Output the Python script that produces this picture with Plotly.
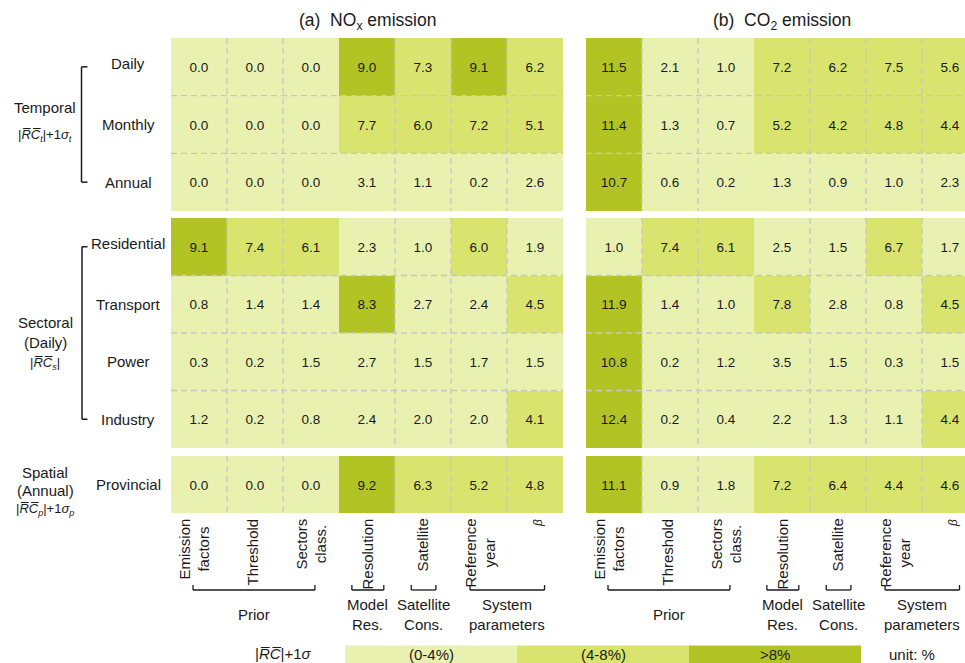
import plotly.graph_objects as go

W, H = 965, 663
FONT = "Liberation Sans, Arial, sans-serif"

# ---------------- data ----------------
params = ["Emission<br>factors", "Threshold", "Sectors<br>class.", "Resolution",
          "Satellite", "Reference<br>year", "<i>β</i>"]
groups = ["Prior", "Model<br>Res.", "Satellite<br>Cons.", "System<br>parameters"]
temporal_rows = ["Daily", "Monthly", "Annual"]
sectoral_rows = ["Residential", "Transport", "Power", "Industry"]
spatial_rows = ["Provincial"]

nox_temporal = [[0.0, 0.0, 0.0, 9.0, 7.3, 9.1, 6.2],
                [0.0, 0.0, 0.0, 7.7, 6.0, 7.2, 5.1],
                [0.0, 0.0, 0.0, 3.1, 1.1, 0.2, 2.6]]
nox_sectoral = [[9.1, 7.4, 6.1, 2.3, 1.0, 6.0, 1.9],
                [0.8, 1.4, 1.4, 8.3, 2.7, 2.4, 4.5],
                [0.3, 0.2, 1.5, 2.7, 1.5, 1.7, 1.5],
                [1.2, 0.2, 0.8, 2.4, 2.0, 2.0, 4.1]]
nox_spatial = [[0.0, 0.0, 0.0, 9.2, 6.3, 5.2, 4.8]]

co2_temporal = [[11.5, 2.1, 1.0, 7.2, 6.2, 7.5, 5.6],
                [11.4, 1.3, 0.7, 5.2, 4.2, 4.8, 4.4],
                [10.7, 0.6, 0.2, 1.3, 0.9, 1.0, 2.3]]
co2_sectoral = [[1.0, 7.4, 6.1, 2.5, 1.5, 6.7, 1.7],
                [11.9, 1.4, 1.0, 7.8, 2.8, 0.8, 4.5],
                [10.8, 0.2, 1.2, 3.5, 1.5, 0.3, 1.5],
                [12.4, 0.2, 0.4, 2.2, 1.3, 1.1, 4.4]]
co2_spatial = [[11.1, 0.9, 1.8, 7.2, 6.4, 4.4, 4.6]]

titles = ["(a)\u00a0\u00a0NO<sub>x</sub> emission", "(b)\u00a0\u00a0CO<sub>2</sub> emission"]
legend_labels = ["(0-4%)", "(4-8%)", ">8%"]
thresholds = [4, 8]
colors = ["#e9f1b1", "#d8e46e", "#b2c424"]

# ---------------- layout helpers ----------------
def fx(px):
    return px / W

def fy(py):
    return 1 - py / H

ZMAX = 16.0
cs = [[0, colors[0]], [thresholds[0] / ZMAX, colors[0]],
      [thresholds[0] / ZMAX, colors[1]], [thresholds[1] / ZMAX, colors[1]],
      [thresholds[1] / ZMAX, colors[2]], [1, colors[2]]]

CELL = 56.0
panel_left = [171, 586]
block_px = [(38, 211), (218, 448), (456, 513)]
blocks = [(temporal_rows, [nox_temporal, co2_temporal]),
          (sectoral_rows, [nox_sectoral, co2_sectoral]),
          (spatial_rows, [nox_spatial, co2_spatial])]

fig = go.Figure()
layout = dict(width=W, height=H, autosize=False, margin=dict(l=0, r=0, t=0, b=0),
              paper_bgcolor="white", plot_bgcolor="white", showlegend=False,
              font=dict(family=FONT, color="#1a1a1a"))
shapes = []
annotations = []

GRID = dict(color="#c6c6c6", width=1.3, dash="6px,4px")

for b, (rows, data) in enumerate(blocks):
    n = len(rows)
    for p in range(2):
        k = b * 2 + p + 1
        xa = "x" if k == 1 else f"x{k}"
        ya = "y" if k == 1 else f"y{k}"
        x0 = panel_left[p]
        x1 = min(x0 + CELL * len(params), W)
        xr_end = -0.5 + (x1 - x0) / CELL
        layout["xaxis" if k == 1 else f"xaxis{k}"] = dict(
            domain=[fx(x0), fx(x1)], range=[-0.5, xr_end], visible=False,
            anchor=ya, fixedrange=True)
        layout["yaxis" if k == 1 else f"yaxis{k}"] = dict(
            domain=[fy(block_px[b][1]), fy(block_px[b][0])], range=[n - 0.5, -0.5],
            visible=False, anchor=xa, fixedrange=True)
        fig.add_trace(go.Heatmap(
            z=data[p], x=list(range(len(params))), y=list(range(n)),
            xaxis=xa, yaxis=ya, colorscale=cs, zmin=0, zmax=ZMAX, showscale=False,
            texttemplate="%{z:.1f}", textfont=dict(size=13.5, color="#1a1a1a", family=FONT),
            hoverinfo="skip"))
        # dashed cell borders
        for c in [0.5, 1.5, 3.5, 4.5, 5.5]:
            shapes.append(dict(type="line", xref=xa, yref=ya, x0=c, x1=c,
                               y0=-0.5, y1=n - 0.5, line=GRID, layer="above"))
        for r in range(n - 1):
            shapes.append(dict(type="line", xref=xa, yref=ya, x0=-0.5, x1=6.5,
                               y0=r + 0.5, y1=r + 0.5, line=GRID, layer="above"))
        if p == 0:
            for i, lab in enumerate(rows):
                annotations.append(dict(xref="paper", yref=ya, x=fx(128), y=i,
                                        text=lab, showarrow=False, xanchor="center",
                                        yanchor="middle", font=dict(size=15),
                                        yshift=3 if (i == 0 and n > 1) else 0))
            if n > 1:
                bx = fx(81.5) if b == 0 else fx(82)
                shapes.append(dict(type="line", xref="paper", yref=ya, x0=bx, x1=bx,
                                   y0=0, y1=n - 1, line=dict(color="#1a1a1a", width=1.5)))
                for yy in (0, n - 1):
                    shapes.append(dict(type="line", xref="paper", yref=ya, x0=bx, x1=fx(87.5),
                                       y0=yy, y1=yy, line=dict(color="#1a1a1a", width=1.5)))
        if b == 0:
            annotations.append(dict(xref=xa, yref="paper", x=3, y=fy(22), text=titles[p],
                                    showarrow=False, xanchor="center", yanchor="middle",
                                    font=dict(size=17.5)))
        if b == 2:
            xshift = [-5, -3, 0, 0, -1, 1, 3]
            for c, lab in enumerate(params):
                is_beta = "β" in lab
                annotations.append(dict(xref=xa, yref="paper", x=c, y=fy(517), text=lab,
                                        showarrow=False, textangle=-90, xanchor="center",
                                        yanchor="top", align="center", xshift=xshift[c],
                                        font=dict(size=12 if is_beta else 15)))
            spans = [(-0.107, 2.07), (2.73, 3.30), (3.79, 4.23), (4.84, 6.17)]
            for g, (s0, s1) in enumerate(spans):
                lw = dict(color="#1a1a1a", width=1.3)
                shapes.append(dict(type="line", xref=xa, yref="paper", x0=s0, x1=s1,
                                   y0=fy(590), y1=fy(590), line=lw))
                for sx in (s0, s1):
                    shapes.append(dict(type="line", xref=xa, yref="paper", x0=sx, x1=sx,
                                       y0=fy(590), y1=fy(585), line=lw))
                annotations.append(dict(xref=xa, yref="paper", x=(s0 + s1) / 2, y=fy(614),
                                        text=groups[g], showarrow=False, xanchor="center",
                                        yanchor="middle", font=dict(size=15)))

# group labels on the left
RC = "R\u0305C\u0305"
left_groups = [
    [("Temporal", 108, 15), (f"|<i>{RC}<sub>t</sub></i>|+1<i>σ<sub>t</sub></i>", 136, 13)],
    [("Sectoral", 322, 15), ("(Daily)", 342, 15), (f"|<i>{RC}<sub>s</sub></i>|", 363, 13)],
    [("Spatial", 472, 15), ("(Annual)", 490, 15), (f"|<i>{RC}<sub>p</sub></i>|+1<i>σ<sub>p</sub></i>", 509, 13)],
]
for grp in left_groups:
    for txt, py, fs in grp:
        annotations.append(dict(xref="paper", yref="paper", x=fx(45), y=fy(py), text=txt,
                                showarrow=False, xanchor="center", yanchor="middle",
                                font=dict(size=fs)))

# legend
leg_x = [345, 517, 689, 861]
for i, lab in enumerate(legend_labels):
    shapes.append(dict(type="rect", xref="paper", yref="paper", x0=fx(leg_x[i]),
                       x1=fx(leg_x[i + 1]), y0=fy(663), y1=fy(645.5),
                       fillcolor=colors[i], line=dict(width=0), layer="below"))
    annotations.append(dict(xref="paper", yref="paper", x=fx((leg_x[i] + leg_x[i + 1]) / 2),
                            y=fy(654), text=lab, showarrow=False, xanchor="center",
                            yanchor="middle", font=dict(size=15)))
annotations.append(dict(xref="paper", yref="paper", x=fx(283), y=fy(653),
                        text=f"|<i>{RC}</i>|+1<i>σ</i>", showarrow=False, xanchor="center",
                        yanchor="middle", font=dict(size=15)))
annotations.append(dict(xref="paper", yref="paper", x=fx(912), y=fy(654), text="unit: %",
                        showarrow=False, xanchor="center", yanchor="middle",
                        font=dict(size=15)))

layout["shapes"] = shapes
layout["annotations"] = annotations
fig.update_layout(**layout)
fig.write_html("out.html")
